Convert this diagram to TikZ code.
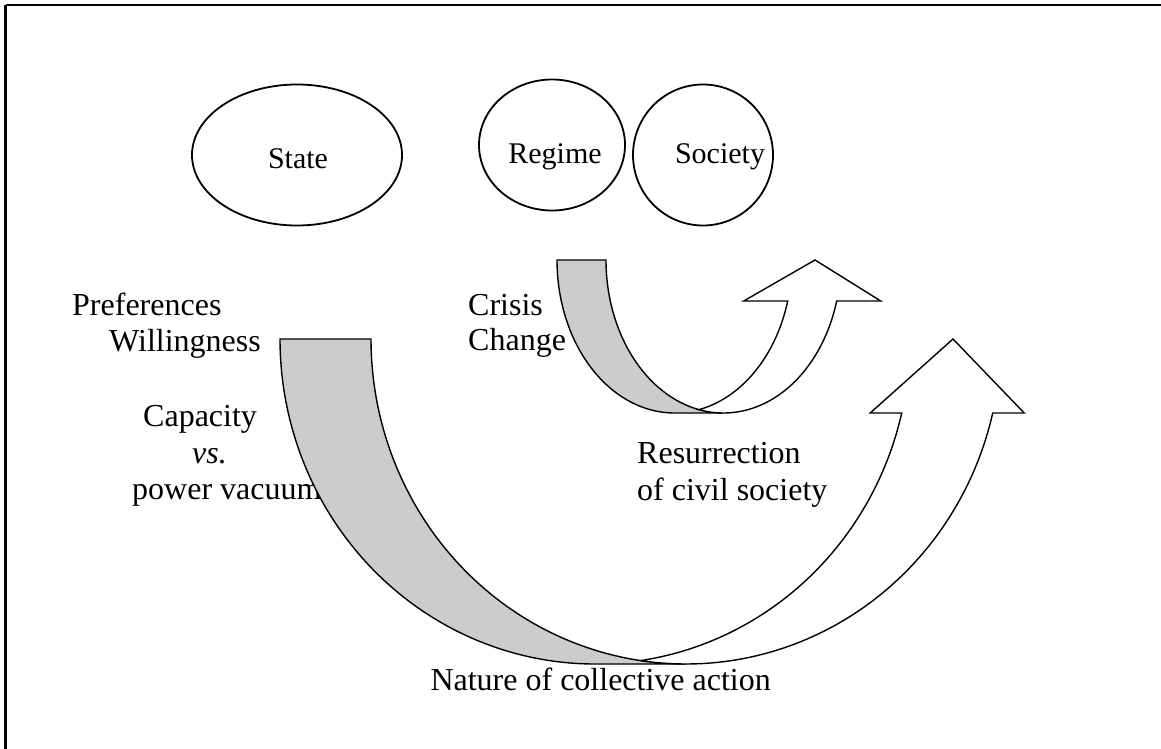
\documentclass[tikz,border=0pt]{standalone}
\usepackage{fontspec}
\setmainfont{Liberation Serif}
\usetikzlibrary{shapes.geometric}
\definecolor{bandgray}{HTML}{CCCCCC}
\begin{document}
\begin{tikzpicture}[x=1pt,y=-1pt,
  oval/.style={ellipse,draw,line width=1.8pt,inner sep=0pt},
  lbl/.style={inner sep=0pt,font=\fontsize{32}{38}\selectfont},
  ovallbl/.style={inner sep=0pt,font=\fontsize{30}{36}\selectfont},
  backband/.style={fill=bandgray,draw=black,line width=1.4pt,line join=miter},
  frontband/.style={fill=white,draw=black,line width=1.4pt,line join=miter},
  frameline/.style={draw=black}]
\useasboundingbox (0,0) rectangle (1161,749);
% frame
\coordinate (fTL) at (5.5,5);
\coordinate (fTR) at (1161,5);
\coordinate (fBL) at (5.5,749);
\draw[frameline,line width=2.6pt] (fTR) -- (fTL);
\draw[frameline,line width=2.2pt] (fTL) -- (fBL);
% ovals
\node[oval,minimum width=210pt,minimum height=141pt] (stateE) at (297,155) {};
\node[oval,minimum width=146pt,minimum height=131pt] (regimeE) at (552,145) {};
\node[oval,minimum width=140pt,minimum height=141pt] (societyE) at (703,155) {};
\node[ovallbl,anchor=base] (stateT) at (298,168) {State};
\node[ovallbl,anchor=base] (regimeT) at (555,163) {Regime};
\node[ovallbl,anchor=base] (societyT) at (720,163) {Society};
% labels
\node[lbl,anchor=base west] (pref) at (72,315) {Preferences};
\node[lbl,anchor=base west] (will) at (109,351) {Willingness};
\node[lbl,anchor=base west] (cap) at (143,426) {Capacity};
\node[lbl,anchor=base west] (vs) at (192,463) {\itshape vs.};
\node[lbl,anchor=base west] (pv) at (132,499) {power vacuum};
\node[lbl,anchor=base west] (crisis) at (468,315) {Crisis};
\node[lbl,anchor=base west] (change) at (468,350) {Change};
\node[lbl,anchor=base west] (res1) at (637,463) {Resurrection};
\node[lbl,anchor=base west] (res2) at (637,500) {of civil society};
\node[lbl,anchor=base east] (nature) at (771,690) {Nature of collective action};
% big curved arrow
\path[backband] plot[domain=180:90,samples=90] ({595+315*cos(\x)},{339+325*sin(\x)})
  -- plot[domain=90:180,samples=90] ({686+315*cos(\x)},{339+325*sin(\x)}) -- cycle;
\path[frontband] (953,339) -- (1024.2,413)
  -- plot[domain=13.16:98.31,samples=90] ({686+315*cos(\x)},{339+325*sin(\x)})
  -- plot[domain=81.69:13.16,samples=90] ({595+315*cos(\x)},{339+325*sin(\x)})
  -- (870.2,413) -- cycle;
% small curved arrow
\path[backband] plot[domain=180:90,samples=70] ({674.5+117.5*cos(\x)},{260+153*sin(\x)})
  -- plot[domain=90:180,samples=70] ({723.5+117.5*cos(\x)},{260+153*sin(\x)}) -- cycle;
\path[frontband] (815,260) -- (880.7,301)
  -- plot[domain=15.54:102.03,samples=70] ({723.5+117.5*cos(\x)},{260+153*sin(\x)})
  -- plot[domain=77.97:15.54,samples=70] ({674.5+117.5*cos(\x)},{260+153*sin(\x)})
  -- (743.7,301) -- cycle;
\end{tikzpicture}
\end{document}
